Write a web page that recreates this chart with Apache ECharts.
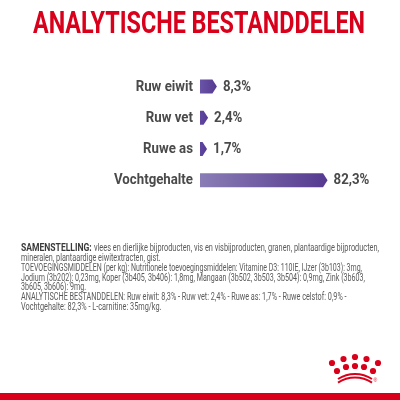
<!DOCTYPE html>
<html>
<head>
<meta charset="utf-8">
<script src="https://cdn.jsdelivr.net/npm/echarts@6/dist/echarts.min.js"></script>
<style>html,body{margin:0;padding:0;background:#fff}#c{width:400px;height:400px}</style>
</head>
<body>
<div id="c"></div>
<script>
const titleText = 'ANALYTISCHE BESTANDDELEN';
const categories = ['Ruw eiwit', 'Ruw vet', 'Ruwe as', 'Vochtgehalte'];
const values = [8.3, 2.4, 1.7, 82.3];
const compositionBold = 'SAMENSTELLING:';
const compositionLines = [
  'vlees en dierlijke bijproducten, vis en visbijproducten, granen, plantaardige bijproducten,',
  'mineralen, plantaardige eiwitextracten, gist.',
  'TOEVOEGINGSMIDDELEN (per kg): Nutritionele toevoegingsmiddelen: Vitamine D3: 110IE, IJzer (3b103): 3mg,',
  'Jodium (3b202): 0,23mg, Koper (3b405, 3b406): 1,8mg, Mangaan (3b502, 3b503, 3b504): 0,9mg, Zink (3b603,',
  '3b605, 3b606): 9mg.',
  'ANALYTISCHE BESTANDDELEN: Ruw eiwit: 8,3% - Ruw vet: 2,4% - Ruwe as: 1,7% - Ruwe celstof: 0,9% -',
  'Vochtgehalte: 82,3% - L-carnitine: 35mg/kg.'
];
// layout: left and right edges (px) of each composition line as set in the reference
const lineSpans = [[94,379],[21,160.5],[21,362],[21,365],[21,86],[21,346.5],[21,161.5]];

const RED = '#d9001b';
const FONT = 'Roboto';
const cv = document.createElement('canvas').getContext('2d');
function measure(font, text){ cv.font = font; return cv.measureText(text).width; }

const titleFont = 'bold 31px ' + FONT;
const titleScale = 332 / measure(titleFont, titleText);
const labelFont = 'bold 15px ' + FONT;
const labelScale = 79 / measure(labelFont, 'Vochtgehalte');
const bodyFont = '10px ' + FONT;
const boldFont = 'bold 11.5px ' + FONT;

const chart = echarts.init(document.getElementById('c'));
function fmt(v){ return String(v).replace('.', ',') + '%'; }

const crownDots = [
  [332,363,3.1],[343.5,359,3.1],[355,357,3.1],[366.5,359,3.1],[378,363,3.1],
  [337,371,3.1],[346,367,3.1],[355,366,3.1],[364,367,3.1],[373,371,3.1]
];
const deco = crownDots.map(d => ({type:'circle', silent:true, shape:{cx:d[0], cy:d[1], r:d[2]}, style:{fill:RED}}));
const ha = Math.asin(17/31.4);
deco.push({type:'arc', silent:true, shape:{cx:355, cy:405.4, r:31.4, startAngle:-Math.PI/2-ha, endAngle:-Math.PI/2+ha}, style:{stroke:RED, lineWidth:2, fill:null}});
deco.push({type:'arc', silent:true, shape:{cx:355, cy:409, r:31.4, startAngle:-Math.PI/2-ha, endAngle:-Math.PI/2+ha}, style:{stroke:RED, lineWidth:2, fill:null}});
deco.push({type:'text', silent:true, x:373.5, y:378, style:{text:'®', fill:RED, font:'5px sans-serif'}});
deco.push({type:'rect', silent:true, shape:{x:0, y:393, width:400, height:7}, style:{fill:RED}});

// title
deco.push({type:'text', silent:true, x:33, y:25, scaleX:titleScale,
  style:{text:titleText, fill:RED, font:titleFont, textVerticalAlign:'middle', textAlign:'left'}});

// composition block
const lineH = 9.9, top0 = 248.3;
deco.push({type:'text', silent:true, x:21, y:top0 + 0.2, scaleX:70.7 / measure(boldFont, compositionBold),
  style:{text:compositionBold, fill:'#3a3a3a', font:boldFont, textVerticalAlign:'middle'}});
compositionLines.forEach((ln, i) => {
  const sp = lineSpans[i];
  deco.push({type:'text', silent:true, x:sp[0], y:top0 + i*lineH, scaleX:(sp[1]-sp[0]) / measure(bodyFont, ln),
    style:{text:ln, fill:'#5a5a5a', font:bodyFont, textVerticalAlign:'middle'}});
});

chart.setOption({
  animation:false,
  grid:{left:200, top:71, width:149.5, height:124.8, containLabel:false},
  xAxis:{type:'value', min:0, max:100, show:false},
  yAxis:{
    type:'category', data:categories, inverse:true,
    axisLine:{show:false}, axisTick:{show:false}, splitLine:{show:false},
    axisLabel:{show:false}
  },
  series:[{
    type:'custom',
    data:values.map((v,i)=>[v,i]),
    encode:{x:0, y:1},
    renderItem:function(params, api){
      const v = api.value(0), c = api.value(1);
      const p0 = api.coord([0, c]);
      const p1 = api.coord([v, c]);
      const h = 14;
      const tip = 4.5;
      const x0 = p0[0], x1 = p1[0], y = p0[1];
      const t = Math.min(1, (x1 - x0) / 40);
      const start = echarts.color.lerp(t, ['#5b42a0', '#8a7db5']);
      return {
        type:'group',
        children:[
          {type:'polygon', shape:{points:[[x0,y-h/2],[x1,y-h/2],[x1+tip,y],[x1,y+h/2],[x0,y+h/2]]},
           style:{fill:new echarts.graphic.LinearGradient(0,0,1,0,[{offset:0,color:start},{offset:1,color:'#553a90'}])}},
          {type:'text', x:x0-7, y:y+0.5, scaleX:labelScale,
           style:{text:categories[c], fill:'#4a4a4a', font:labelFont, textVerticalAlign:'middle', textAlign:'right'}},
          {type:'text', x:x1+tip+6, y:y+0.5, scaleX:labelScale,
           style:{text:fmt(v), fill:'#4a4a4a', font:labelFont, textVerticalAlign:'middle', textAlign:'left'}}
        ]
      };
    }
  }],
  graphic:deco
});
</script>
</body>
</html>
